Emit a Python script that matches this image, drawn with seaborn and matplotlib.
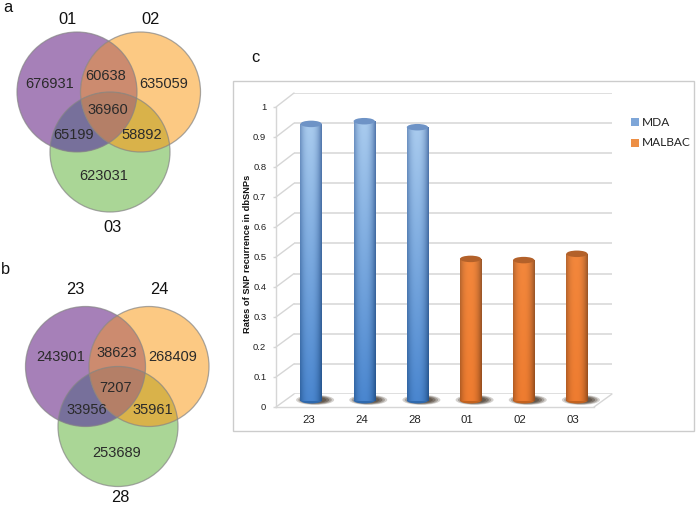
import numpy as np
import pandas as pd
import matplotlib
matplotlib.use("Agg")
import matplotlib.pyplot as plt
import seaborn as sns
from matplotlib.patches import Circle, Ellipse, Polygon, Rectangle

samples = ["23", "24", "28", "01", "02", "03"]
rates = [0.922, 0.931, 0.911, 0.472, 0.468, 0.489]
methods = ["MDA", "MDA", "MDA", "MALBAC", "MALBAC", "MALBAC"]
y_ticks = [0, 0.1, 0.2, 0.3, 0.4, 0.5, 0.6, 0.7, 0.8, 0.9, 1]

# venn counts: only1, only2, only3, 1&2, 1&3, 2&3, all
venn_a = [676931, 635059, 623031, 60638, 65199, 58892, 36960]
venn_b = [243901, 268409, 253689, 38623, 33956, 35961, 7207]
names_a = ["01", "02", "03"]
names_b = ["23", "24", "28"]

sns.set_theme(style="white")
plt.rcParams["font.family"] = ["Liberation Sans", "DejaVu Sans"]

W, H = 697, 507
fig = plt.figure(figsize=(W / 100, H / 100), dpi=100)


def box(left, right, y0, y1):
    # pixel box (y measured from the top) -> figure fractions
    return [left / W, 1 - y0 / H, (right - left) / W, (y0 - y1) / H]


# whole figure axes in pixels, for the venns and the frame
bg = fig.add_axes([0, 0, 1, 1], zorder=0)
bg.set_xlim(0, W)
bg.set_ylim(H, 0)
bg.axis("off")

C_PURPLE, C_ORANGE, C_GREEN = "#a680b8", "#fcc983", "#aad696"
C_AB, C_AC, C_BC, C_ABC = "#cc8b6f", "#77709b", "#d9b24a", "#b47f67"
R = 60


def lens(c1, c2):
    t = np.linspace(0, 2 * np.pi, 720)
    p1 = np.c_[c1[0] + R * np.cos(t), c1[1] + R * np.sin(t)]
    p2 = np.c_[c2[0] + R * np.cos(t), c2[1] + R * np.sin(t)]
    pts = np.r_[p1[np.hypot(*(p1 - c2).T) <= R], p2[np.hypot(*(p2 - c1).T) <= R]]
    mid = pts.mean(axis=0)
    return pts[np.argsort(np.arctan2(*(pts - mid).T[::-1]))]


def venn(ax, a, b, c, counts, names, num_xy, name_xy):
    for cen, col in [(c, C_GREEN), (a, C_PURPLE), (b, C_ORANGE)]:
        ax.add_patch(Circle(cen, R, fc=col, ec="none"))
    ax.add_patch(Polygon(lens(a, b), fc=C_AB, ec="none"))
    ax.add_patch(Polygon(lens(a, c), fc=C_AC, ec="none"))
    ax.add_patch(Polygon(lens(b, c), fc=C_BC, ec="none"))
    mask = Circle(c, R, fc="none", ec="none")
    ax.add_patch(mask)
    tri = Polygon(lens(a, b), fc=C_ABC, ec="none")
    ax.add_patch(tri)
    tri.set_clip_path(mask)
    for cen in (a, b, c):
        ax.add_patch(Circle(cen, R, fc="none", ec="#858585", lw=0.9, alpha=0.7))
    for val, (x, y) in zip(counts, num_xy):
        ax.text(x, y, str(val), ha="center", va="center", fontsize=10.5, color="#2a2a2a")
    for nm, (x, y) in zip(names, name_xy):
        ax.text(x, y, nm, ha="center", va="center", fontsize=11.8, color="#111111")


venn(bg, (77, 92), (140.5, 92), (110, 152), venn_a, names_a,
     [(50, 84), (164, 84), (104, 176), (106, 76), (74, 135), (142, 135), (108, 110)],
     [(67, 19), (151, 19), (113, 227)])
venn(bg, (85.5, 366.5), (149, 366.5), (118, 426.5), venn_b, names_b,
     [(61, 357), (173, 357), (117, 453), (117, 353), (87, 410), (153, 410), (116, 388)],
     [(75, 290), (159, 290), (120, 498)])

for txt, x, y in [("a", 8, 7), ("b", 5, 269), ("c", 255, 57)]:
    bg.text(x, y, txt, ha="center", va="center", fontsize=11.8, color="#111111")

# chart frame and the slanted lines between front axis and back wall
bg.add_patch(Rectangle((233, 81), 461, 350, fc="white", ec="#cccccc", lw=1))
GRID = "#d6d6d6"
for v in y_ticks:
    yf = 407 - 300 * v
    bg.plot([276, 294], [yf, 394 - 301 * v], color=GRID, lw=1)
bg.plot([594, 612], [407, 394], color=GRID, lw=1)

# back wall
wall = fig.add_axes(box(294, 612, 394, 93), zorder=1)
wall.patch.set_alpha(0)
wall.set_ylim(0, 1)
wall.set_yticks(y_ticks)
wall.set_xticks([])
wall.tick_params(left=False, labelleft=False)
wall.grid(axis="y", color=GRID, lw=1.1)
sns.despine(ax=wall, top=True, right=True, bottom=True, left=True)

# front axis, holds ticks and labels
front = fig.add_axes(box(276, 594, 407, 107), zorder=2)
front.patch.set_alpha(0)
front.set_xlim(-0.625, 5.4)
front.set_ylim(0, 1)
front.set_xticks(range(len(samples)))
front.set_xticklabels(samples, fontsize=8.2, color="#222222")
front.set_yticks(y_ticks)
front.set_yticklabels([f"{v:g}" for v in y_ticks], fontsize=6.8, color="#222222")
front.tick_params(axis="x", length=0, pad=6)
front.tick_params(axis="y", length=2, width=1, color=GRID, pad=5, left=True)
front.set_ylabel("Rates of SNP recurrence in dbSNPs", fontsize=6.7, fontweight="bold",
                 color="#111111")
front.yaxis.set_label_coords(-0.075, 0.51)
sns.despine(ax=front, top=True, right=True)
for side in ("left", "bottom"):
    front.spines[side].set_color(GRID)
    front.spines[side].set_linewidth(1)

# bars stand half way between wall and front
ax = fig.add_axes(box(284.5, 603.5, 400.5, 100.5), zorder=3)
ax.patch.set_alpha(0)
df = pd.DataFrame({"sample": samples, "rate": rates, "method": methods})
sns.barplot(data=df, x="sample", y="rate", hue="method", dodge=False, width=0.4,
            palette={"MDA": "#5b8fd0", "MALBAC": "#ed7d31"}, legend=False, ax=ax)
ax.set_xlim(-0.5, 5.5)
ax.set_ylim(0, 1)
ax.axis("off")

px_x = 6 / 319  # data units of one pixel
px_y = 1 / 300

SHADES = {
    "MDA": dict(top_c="#a9cbee", top_e="#6286b8", bot_c="#4a86cf", bot_e="#2a5c98",
                cap="#6e93c6", foot="#2f69ad"),
    "MALBAC": dict(top_c="#f3873c", top_e="#a9602e", bot_c="#ee7c30", bot_e="#a4541f",
                   cap="#b3612a", foot="#c2621f"),
}


def gradient(sh, ny=160, nx=40):
    to_rgb = matplotlib.colors.to_rgb
    u = (np.abs(np.linspace(-1, 1, nx) + 0.08) ** 2.4)[None, :, None]
    v = np.linspace(0, 1, ny)[:, None, None]
    top = np.array(to_rgb(sh["top_c"]))[None, None, :] * (1 - u) + np.array(to_rgb(sh["top_e"]))[None, None, :] * u
    bot = np.array(to_rgb(sh["bot_c"]))[None, None, :] * (1 - u) + np.array(to_rgb(sh["bot_e"]))[None, None, :] * u
    return np.clip(top * (1 - v) + bot * v, 0, 1)


bars = [p for p in ax.patches if p.get_height() > 0]
bars = sorted(bars, key=lambda p: p.get_x())
for p, m in zip(bars, methods):
    sh = SHADES[m]
    x0, w, h = p.get_x(), p.get_width(), p.get_height()
    cx = x0 + w / 2
    p.set_visible(False)
    # soft floor shadow
    for k, a in [(1.0, 0.25), (0.88, 0.35), (0.75, 0.5), (0.6, 0.6)]:
        ax.add_patch(Ellipse((cx + 4 * px_x, 0.6 * px_y), 38 * px_x * k, 10 * px_y * k,
                             fc="#54483c", ec="none", alpha=a, clip_on=False, zorder=2))
    ax.add_patch(Ellipse((cx, 0), w, 6 * px_y, fc=sh["foot"], ec="none", clip_on=False, zorder=3))
    ax.imshow(gradient(sh), extent=(x0, x0 + w, 0, h), aspect="auto", origin="upper",
              zorder=4, interpolation="bilinear")
    ax.add_patch(Ellipse((cx, h), w, 6.5 * px_y, fc=sh["cap"], ec="none", clip_on=False, zorder=5))
ax.set_xlim(-0.5, 5.5)
ax.set_ylim(0, 1)

# legend
for lab, y, col in [("MDA", 122, "#7ea6d8"), ("MALBAC", 143, "#ed8f45")]:
    bg.add_patch(Rectangle((631, y - 4), 7.5, 7.5, fc=col, ec="none", zorder=5))
    bg.text(642, y, lab, ha="left", va="center", fontsize=8.6, family="Lato", color="#222222", zorder=5)

fig.savefig("out.png", dpi=100)
